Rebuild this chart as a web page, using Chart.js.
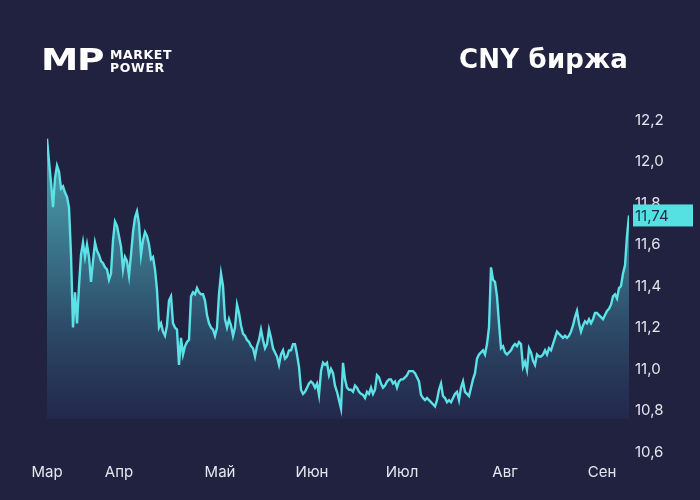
<!DOCTYPE html>
<html>
<head>
<meta charset="utf-8">
<script src="https://cdn.jsdelivr.net/npm/chart.js@4.4.1/dist/chart.umd.min.js"></script>
<style>
  html, body { margin: 0; padding: 0; background: #212140; }
  #wrap { position: relative; width: 700px; height: 500px; background: #212140; overflow: hidden; }
  #c { position: absolute; left: 0; top: 0; }
  .logoMP { position: absolute; left: 41px; top: 45px; font-family: "DejaVu Sans", sans-serif; font-weight: bold; font-size: 30px; line-height: 30px; color: #fff; transform: scaleX(1.25); transform-origin: left top; letter-spacing: -1px; }
  .logoTxt { position: absolute; left: 110px; top: 49px; font-family: "DejaVu Sans", sans-serif; font-weight: bold; font-size: 12.5px; line-height: 12.5px; color: #fff; letter-spacing: 0.6px; }
  .title { position: absolute; right: 72px; top: 46px; font-family: "DejaVu Sans", sans-serif; font-weight: bold; font-size: 26px; line-height: 26px; color: #fff; letter-spacing: 0.2px; }
</style>
</head>
<body>
<div id="wrap">
  <canvas id="c" width="700" height="500"></canvas>
  <div class="logoMP">MP</div>
  <div class="logoTxt">MARKET<br>POWER</div>
  <div class="title">CNY биржа</div>
</div>
<script>
// --- data ---
const values = [
  12.11, 12.00, 11.90, 11.78, 11.92, 11.98, 11.95, 11.87, 11.88, 11.85,
  11.83, 11.78, 11.55, 11.20, 11.37, 11.22, 11.40, 11.55, 11.61, 11.54,
  11.60, 11.54, 11.42, 11.52, 11.61, 11.57, 11.55, 11.52, 11.51, 11.49,
  11.48, 11.43, 11.46, 11.62, 11.71, 11.69, 11.64, 11.59, 11.48, 11.54,
  11.52, 11.45, 11.55, 11.66, 11.73, 11.76, 11.70, 11.55, 11.62, 11.66,
  11.64, 11.60, 11.53, 11.54, 11.48, 11.38, 11.20, 11.22, 11.18, 11.16,
  11.21, 11.33, 11.35, 11.22, 11.20, 11.19, 11.02, 11.15, 11.07, 11.11,
  11.13, 11.14, 11.35, 11.37, 11.36, 11.39, 11.37, 11.36, 11.36, 11.33,
  11.26, 11.22, 11.20, 11.19, 11.16, 11.20, 11.36, 11.46, 11.40, 11.24,
  11.20, 11.24, 11.21, 11.16, 11.20, 11.31, 11.27, 11.21, 11.17, 11.16,
  11.14, 11.13, 11.11, 11.10, 11.06, 11.11, 11.14, 11.19, 11.14, 11.10,
  11.12, 11.19, 11.15, 11.10, 11.08, 11.06, 11.02, 11.07, 11.09, 11.05,
  11.06, 11.09, 11.09, 11.12, 11.12, 11.07, 11.01, 10.90, 10.88, 10.89,
  10.91, 10.93, 10.94, 10.93, 10.91, 10.93, 10.875, 10.99, 11.03, 11.02,
  11.03, 10.97, 11.00, 10.98, 10.92, 10.89, 10.85, 10.81, 11.03, 10.95,
  10.91, 10.90, 10.90, 10.89, 10.92, 10.91, 10.89, 10.88, 10.875, 10.86,
  10.89, 10.88, 10.91, 10.88, 10.90, 10.97, 10.96, 10.93, 10.91, 10.92,
  10.94, 10.95, 10.95, 10.93, 10.94, 10.91, 10.94, 10.95, 10.95, 10.96,
  10.97, 10.99, 10.99, 10.99, 10.98, 10.96, 10.94, 10.875, 10.86, 10.85,
  10.86, 10.85, 10.84, 10.83, 10.82, 10.85, 10.90, 10.93, 10.87, 10.86,
  10.84, 10.85, 10.84, 10.86, 10.88, 10.89, 10.85, 10.91, 10.94, 10.89,
  10.88, 10.87, 10.91, 10.95, 10.98, 11.05, 11.07, 11.08, 11.09, 11.07,
  11.12, 11.20, 11.49, 11.43, 11.42, 11.35, 11.22, 11.10, 11.11, 11.08,
  11.07, 11.08, 11.09, 11.11, 11.12, 11.11, 11.13, 11.12, 11.01, 11.035,
  10.995, 11.10, 11.08, 11.04, 11.02, 11.07, 11.06, 11.06, 11.07, 11.09,
  11.07, 11.10, 11.09, 11.12, 11.15, 11.18, 11.17, 11.16, 11.15, 11.16,
  11.15, 11.16, 11.18, 11.21, 11.25, 11.28, 11.22, 11.18, 11.21, 11.23,
  11.22, 11.24, 11.22, 11.24, 11.27, 11.27, 11.26, 11.25, 11.24, 11.26,
  11.28, 11.29, 11.31, 11.35, 11.36, 11.34, 11.39, 11.40, 11.46, 11.50,
  11.64, 11.74
];
const monthLabels = ["Мар", "Апр", "Май", "Июн", "Июл", "Авг", "Сен"];
const monthTickIndex = [0, 36, 86.5, 132.5, 177.5, 229, 277.5];
const yTicks = [10.6, 10.8, 11.0, 11.2, 11.4, 11.6, 11.8, 12.0, 12.2];
const yMin = 10.6, yMax = 12.2, fillBase = 10.76;

const points = values.map((v, i) => ({ x: i, y: v }));
const fmt = v => v.toFixed(1).replace('.', ',');

const badgePlugin = {
  id: 'badge',
  afterDraw(chart) {
    const { ctx, scales } = chart;
    const last = values[values.length - 1];
    const y = scales.y.getPixelForValue(last);
    ctx.save();
    ctx.fillStyle = '#55e0e2';
    ctx.fillRect(633, y - 11, 60, 22);
    ctx.fillStyle = '#1e2a48';
    ctx.font = '15px Inter, sans-serif';
    ctx.textBaseline = 'middle';
    ctx.textAlign = 'left';
    ctx.fillText(last.toFixed(2).replace('.', ','), 635, y + 1);
    ctx.restore();
  }
};

new Chart(document.getElementById('c'), {
  type: 'line',
  data: {
    datasets: [{
      data: points,
      borderColor: '#5ce2e6',
      borderWidth: 2.4,
      pointRadius: 0,
      tension: 0,
      fill: { value: fillBase },
      backgroundColor: (context) => {
        const chart = context.chart;
        const { ctx, chartArea, scales } = chart;
        if (!chartArea) return 'rgba(70,150,165,0.6)';
        const g = ctx.createLinearGradient(0, scales.y.getPixelForValue(12.1), 0, scales.y.getPixelForValue(fillBase));
        g.addColorStop(0, 'rgba(82,178,188,0.95)');
        g.addColorStop(0.5, 'rgba(55,108,132,0.9)');
        g.addColorStop(1, 'rgba(38,48,86,0.55)');
        return g;
      }
    }]
  },
  options: {
    responsive: false,
    animation: false,
    layout: { padding: { left: 47, right: 0, top: 120, bottom: 0 } },
    plugins: { legend: { display: false }, tooltip: { enabled: false } },
    scales: {
      x: {
        type: 'linear',
        min: 0,
        max: values.length - 1,
        grid: { display: false, drawTicks: false },
        border: { display: false },
        afterBuildTicks: (scale) => { scale.ticks = monthTickIndex.map(v => ({ value: v })); },
        afterFit: (scale) => { scale.height = 48; },
        ticks: {
          autoSkip: false, maxRotation: 0, padding: 11,
          color: '#e6e6ef',
          font: { family: 'Inter, sans-serif', size: 15 },
          callback: (v, i) => monthLabels[i]
        }
      },
      y: {
        position: 'right',
        min: yMin,
        max: yMax,
        grid: { display: false, drawTicks: false },
        border: { display: false },
        afterBuildTicks: (scale) => { scale.ticks = yTicks.map(v => ({ value: v })); },
        afterFit: (scale) => { scale.width = 71; },
        ticks: {
          padding: 6,
          color: '#e6e6ef',
          font: { family: 'Inter, sans-serif', size: 15 },
          callback: (v) => fmt(v)
        }
      }
    }
  },
  plugins: [badgePlugin]
});
</script>
</body>
</html>
